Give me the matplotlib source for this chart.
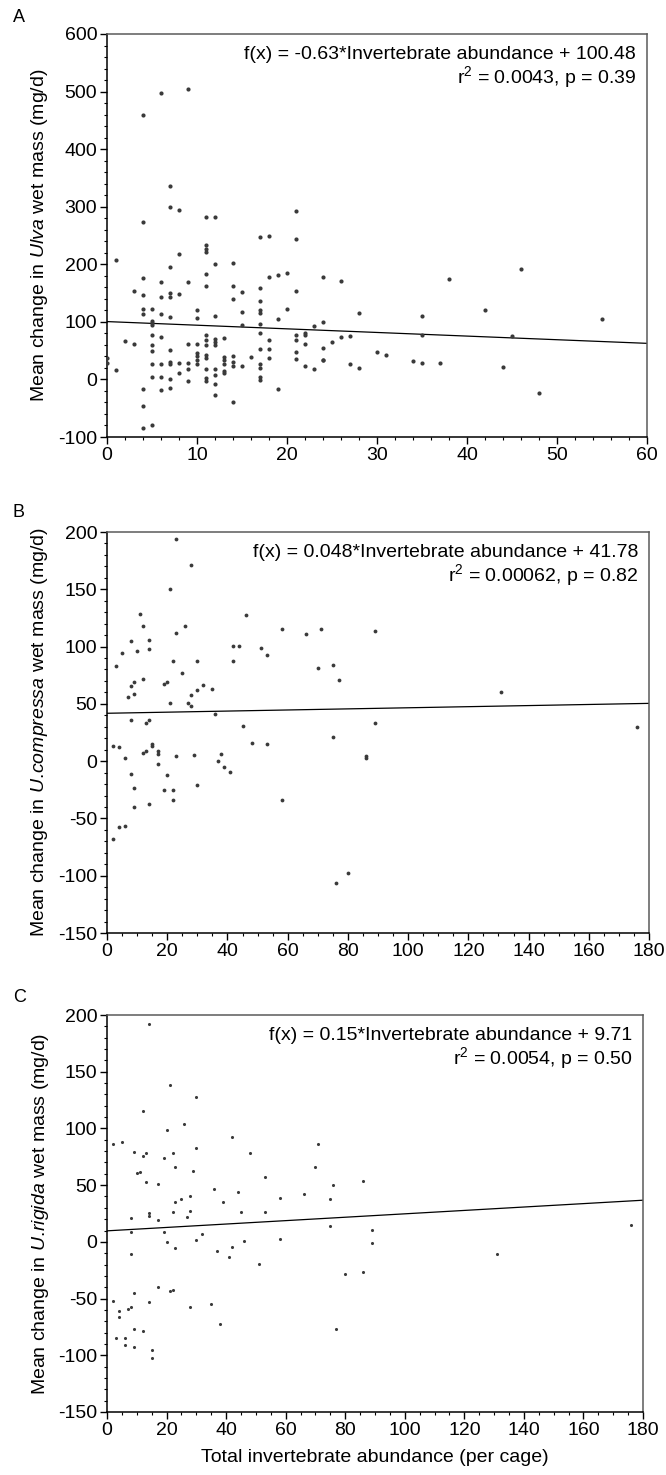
import matplotlib
matplotlib.use('Agg')
import matplotlib.pyplot as plt
import numpy as np
from matplotlib.ticker import MultipleLocator

plt.rcParams['font.family'] = ['Liberation Sans', 'DejaVu Sans']
plt.rcParams['mathtext.fontset'] = 'custom'
plt.rcParams['mathtext.rm'] = 'Liberation Sans'
plt.rcParams['mathtext.it'] = 'Liberation Sans:italic'
plt.rcParams['mathtext.default'] = 'regular'
plt.rcParams['axes.unicode_minus'] = False

# ---- panel A: Ulva ----------------------------------------------------------
a_x = [0, 0,
       1, 1,
       2,
       3, 3,
       4, 4, 4, 4, 4, 4, 4, 4, 4,
       5, 5, 5, 5, 5, 5, 5, 5, 5, 5,
       6, 6, 6, 6, 6, 6, 6, 6,
       7, 7, 7, 7, 7, 7, 7, 7, 7, 7, 7,
       8, 8, 8, 8, 8,
       9, 9, 9, 9, 9, 9,
       10, 10, 10, 10, 10, 10, 10,
       11, 11, 11, 11, 11, 11, 11, 11, 11, 11, 11, 11, 11, 11,
       12, 12, 12, 12, 12, 12, 12, 12, 12, 12,
       13, 13, 13, 13, 13, 13,
       14, 14, 14, 14, 14, 14, 14,
       15, 15, 15, 15,
       16,
       17, 17, 17, 17, 17, 17, 17, 17, 17, 17, 17, 17,
       18, 18, 18, 18, 18,
       19, 19, 19,
       20, 20,
       21, 21, 21, 21, 21, 21, 21,
       22, 22, 22, 22,
       23, 23,
       24, 24, 24, 24, 24,
       25,
       26, 26,
       27, 27,
       28, 28,
       30, 31, 34,
       35, 35, 35,
       37, 38, 42, 44, 45, 46, 48, 55]
a_y = [37, 28,
       207, 16,
       66,
       153, 62,
       460, 274, 177, 146, 123, 114, -17, -46, -85,
       122, 102, 98, 94, 78, 60, 50, 27, 4, -79,
       497, 169, 144, 113, 74, 27, 4, -19,
       336, 299, 196, 150, 144, 109, 51, 30, 27, 1, -15,
       294, 217, 149, 28, 11,
       505, 170, 62, 28, 18, -2,
       121, 106, 62, 46, 40, 34, 26,
       283, 234, 226, 222, 183, 162, 78, 69, 59, 43, 37, 18, 2, -2,
       283, 200, 111, 70, 65, 59, 18, 8, -8, -27,
       72, 39, 33, 27, 14, 11,
       203, 162, 139, 40, 31, 23, -40,
       151, 117, 95, 24,
       39,
       248, 159, 136, 121, 116, 97, 81, 52, 27, 19, 5, -1,
       249, 178, 69, 53, 37,
       181, 105, -17,
       185, 123,
       292, 244, 153, 78, 68, 47, 35,
       81, 77, 62, 23,
       92, 18,
       178, 99, 55, 34, 33,
       65,
       171, 74,
       75, 26,
       115, 20,
       48, 42, 32,
       111, 78, 29,
       29, 175, 121, 22, 76, 191, -24, 105]
a_fit = [-0.63, 100.48]

# ---- panel B: U. compressa --------------------------------------------------
b_x = [23, 28, 21, 11, 12, 26, 46, 58, 66, 71, 8, 14, 14, 23, 5, 10, 42, 44,
       51, 53, 3, 22, 30, 42, 25, 75, 70, 77, 8, 9, 12, 19, 20, 32, 35, 30,
       7, 9, 21, 27, 28, 28, 36, 8, 13, 14, 45, 15, 15, 12, 13, 17, 17, 48,
       53, 75, 2, 4, 6, 23, 29, 38, 37, 17, 39, 41, 8, 20, 9, 19, 22, 22,
       30, 9, 14, 58, 4, 6, 2, 76, 89, 131, 89, 176, 86, 86, 80]
b_y = [193.6, 171.5, 150.5, 128.7, 117.6, 117.9, 127.2, 115.3, 110.9, 115,
       104.5, 105.4, 98.1, 111.8, 94.3, 95.8, 100.7, 100.4, 99, 92.6, 83.3,
       87, 87, 87, 77.1, 84.1, 80.9, 71, 65.5, 69, 71.6, 67, 69.3, 66.4,
       63.2, 62.3, 55.9, 58.8, 51, 51, 48.3, 57.4, 41.3, 36.1, 33.5, 35.5,
       31.1, 14.6, 13.4, 7.3, 8.7, 8.7, 6.4, 15.7, 15.1, 21.3, 12.8, 12.5,
       2.9, 4.1, 5.5, 6.4, -0.3, -2.3, -4.7, -9.9, -11.6, -12.5, -23.6,
       -25.1, -25.1, -33.5, -21, -39.9, -37.5, -34, -57.5, -56.9, -68.3,
       -106, 113.2, 60.2, 33.1, 29.4, 4.6, 2.9, -97.6]
b_fit = [0.048, 41.78]

# ---- panel C: U. rigida -----------------------------------------------------
c_x = [14, 21, 30, 12, 20, 26, 42, 2, 5, 71, 9, 12, 13, 19, 22, 30, 48, 23,
       10, 11, 29, 70, 13, 17, 53, 76, 36, 44, 66, 28, 25, 23, 39, 58, 75,
       14, 14, 22, 28, 45, 53, 8, 17, 27, 75, 8, 19, 20, 23, 30, 32, 42, 46,
       58, 37, 41, 51, 8, 17, 21, 22, 9, 2, 14, 4, 4, 7, 8, 28, 35, 38, 3,
       6, 6, 9, 9, 12, 15, 15, 77, 86, 89, 89, 131, 176, 80, 86]
c_y = [192, 138, 127.7, 115, 98.6, 103.6, 92.7, 86.6, 87.8, 86.6, 79, 75.7,
       78, 74.3, 78, 83, 78, 66.3, 60.5, 61.9, 62.5, 66, 53.1, 51.1, 57.5,
       49.9, 46.4, 43.7, 42.6, 40.5, 37.9, 35.5, 35.5, 38.4, 37.9, 25.2,
       23.2, 26.7, 27.6, 26.4, 26.7, 21.1, 19.7, 21.7, 13.8, 9.1, 8.5, -0.3,
       -5.7, 2, 6.8, -4.2, 0.6, 2.8, -8.2, -13.2, -19.7, -10.6, -39.7,
       -43.5, -42.6, -45, -52.4, -52.9, -60.9, -66.2, -58.8, -57.4, -57.6,
       -54.4, -72.6, -84.7, -84.7, -90.6, -76.5, -92.4, -78.2, -95.6,
       -102.4, -77, 53.5, 10.6, -0.6, -10.6, 14.7, -28.5, -26.8]
c_fit = [0.15, 9.71]

EQS = ['f(x) = -0.63*Invertebrate abundance + 100.48',
       'f(x) = 0.048*Invertebrate abundance + 41.78',
       'f(x) = 0.15*Invertebrate abundance + 9.71']
STATS = ['r$^2$ = 0.0043, p = 0.39',
         'r$^2$ = 0.00062, p = 0.82',
         'r$^2$ = 0.0054, p = 0.50']
# \! cancels the thin space mathtext puts after a period
YLABELS = ['Mean change in $\\mathit{Ulva}$ wet mass (mg/d)',
           'Mean change in $\\mathit{U.\\!compressa}$ wet mass (mg/d)',
           'Mean change in $\\mathit{U.\\!rigida}$ wet mass (mg/d)']
XLABEL = 'Total invertebrate abundance (per cage)'

W, H = 666, 1475
FS = 14
fig = plt.figure(figsize=(W / 100, H / 100), dpi=100)


def axes_px(left, right, top, bottom):
    return fig.add_axes([left / W, 1 - bottom / H, (right - left) / W, (bottom - top) / H])


def panel(ax, x, y, fit, eq, stat, ylabel, xmax, xmaj, xmin, ylim, ymaj, ymin, ms):
    ax.scatter(x, y, s=ms, color='#3a3a3a', linewidths=0, zorder=3)
    xs = np.array([0, xmax])
    ax.plot(xs, fit[0] * xs + fit[1], color='black', lw=0.9, zorder=2)
    ax.set_xlim(0, xmax)
    ax.set_ylim(*ylim)
    ax.xaxis.set_major_locator(MultipleLocator(xmaj))
    ax.xaxis.set_minor_locator(MultipleLocator(xmin))
    ax.yaxis.set_major_locator(MultipleLocator(ymaj))
    ax.yaxis.set_minor_locator(MultipleLocator(ymin))
    for s in ['left', 'bottom']:
        ax.spines[s].set_color('black')
        ax.spines[s].set_linewidth(1.1)
    for s in ['top', 'right']:
        ax.spines[s].set_color('#5a5a5a')
        ax.spines[s].set_linewidth(1.1)
    ax.tick_params(which='major', direction='out', length=5, width=1,
                   labelsize=FS, pad=2, top=False, right=False)
    ax.tick_params(which='minor', direction='out', length=2.5, width=0.8,
                   top=False, right=False)
    ax.text(0.98, 0.948, eq, transform=ax.transAxes, ha='right', va='center', fontsize=FS)
    ax.text(0.98, 0.892, stat, transform=ax.transAxes, ha='right', va='center', fontsize=FS)
    ax.set_ylabel(ylabel, fontsize=FS)
    ax.yaxis.set_label_coords(-0.105, 0.5)


axA = axes_px(107, 647, 34, 437)
panel(axA, a_x, a_y, a_fit, EQS[0], STATS[0], YLABELS[0],
      60, 10, 2, (-100, 600), 100, 20, 9)

axB = axes_px(107, 649, 532, 933)
panel(axB, b_x, b_y, b_fit, EQS[1], STATS[1], YLABELS[1],
      180, 20, 5, (-150, 200), 50, 10, 7.5)

axC = axes_px(107, 643, 1015, 1412)
panel(axC, c_x, c_y, c_fit, EQS[2], STATS[2], YLABELS[2],
      180, 20, 5, (-150, 200), 50, 10, 5)
axC.set_xlabel(XLABEL, fontsize=FS)
axC.xaxis.set_label_coords(0.5, -0.094)

for lbl, ypx in zip(['A', 'B', 'C'], [18, 512, 997]):
    fig.text(13 / W, 1 - ypx / H, lbl, fontsize=13, ha='left', va='center')

fig.savefig('out.png', dpi=100)
